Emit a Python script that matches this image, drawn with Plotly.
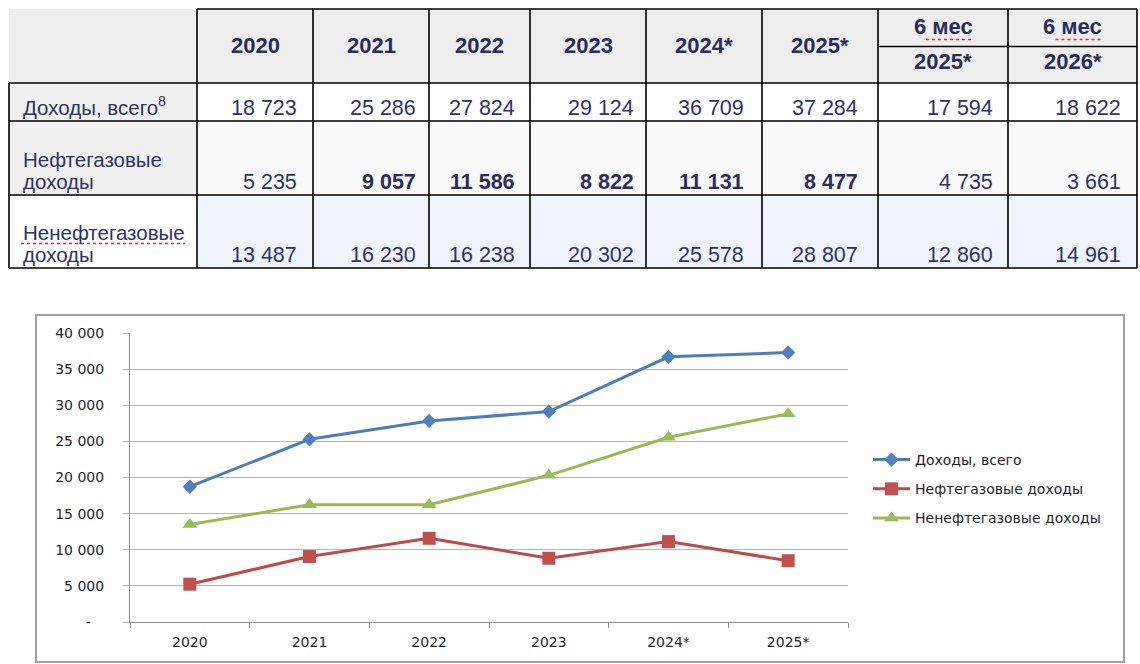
import plotly.graph_objects as go

# ---------------- data ----------------
years = ["2020", "2021", "2022", "2023", "2024*", "2025*"]
total = [18723, 25286, 27824, 29124, 36709, 37284]
oil_gas = [5235, 9057, 11586, 8822, 11131, 8477]
non_oil_gas = [13487, 16230, 16238, 20302, 25578, 28807]
series_names = ["Доходы, всего", "Нефтегазовые доходы", "Ненефтегазовые доходы"]

y_tick_values = [0, 5000, 10000, 15000, 20000, 25000, 30000, 35000, 40000]
y_tick_labels = ["-\u00a0\u00a0\u00a0", "5 000", "10 000", "15 000", "20 000",
                 "25 000", "30 000", "35 000", "40 000"]

table_col_top = ["", "", "", "", "", "", "6 мес", "6 мес"]
table_col_labels = ["2020", "2021", "2022", "2023", "2024*", "2025*", "2025*", "2026*"]
table_row_labels = [["Доходы, всего<sup>8</sup>"],
                    ["Нефтегазовые", "доходы"],
                    ["Ненефтегазовые", "доходы"]]
table_total = [18723, 25286, 27824, 29124, 36709, 37284, 17594, 18622]
table_oil_gas = [5235, 9057, 11586, 8822, 11131, 8477, 4735, 3661]
table_non_oil_gas = [13487, 16230, 16238, 20302, 25578, 28807, 12860, 14961]
table_oil_gas_bold = [False, True, True, True, True, True, False, False]

# ---------------- layout constants ----------------
W, H = 1140, 664
COL_EDGES = [9, 197, 313, 429, 530, 646, 762, 878, 1008, 1137]
ROW_EDGES = [9, 83, 121, 195, 268]
HEADER_SPLIT = 46.5
VALUE_PAD = [15, 12, 14, 11, 17, 19, 14, 15]
TABLE_H = 275
LINE_GAP = 22
TFONT = "Liberation Sans, Arial, sans-serif"
CFONT = "DejaVu Sans, sans-serif"
NAVY = "#2f3266"
NAVY_B = "#2a2c5e"

colors_line = ["#4a7ebb", "#be4b48", "#98b954"]
colors_marker = ["#4f81bd", "#c0504d", "#9bbb59"]
symbols = ["diamond", "square", "triangle-up"]
msizes = [11, 13, 13]


def fmt(v):
    return f"{v:,}".replace(",", " ")


fig = go.Figure()

# ---------------- table (cells via heatmap on its own axes) ----------------
fill_codes = [[0] * 9,
              [1] + [2] * 8,
              [1] + [3] * 8,
              [2] + [4] * 8]
fig.add_trace(go.Heatmap(
    x=COL_EDGES, y=ROW_EDGES, z=fill_codes, xaxis="x2", yaxis="y2",
    zmin=0, zmax=4, showscale=False, hoverinfo="skip",
    colorscale=[[0, "#eeeeee"], [0.25, "#f0f0f0"], [0.5, "#ffffff"],
                [0.75, "#f9f9f9"], [1, "#eef3fc"]],
))

shapes = []
blk = dict(color="#000000", width=1.6)


def hline(y, x0, x1, line=blk):
    shapes.append(dict(type="line", xref="x2", yref="y2", x0=x0, x1=x1,
                       y0=y, y1=y, line=line))


def vline(x, y0, y1, line=blk):
    shapes.append(dict(type="line", xref="x2", yref="y2", x0=x, x1=x,
                       y0=y0, y1=y1, line=line))


hline(ROW_EDGES[0], COL_EDGES[1], COL_EDGES[-1])
for y in ROW_EDGES[1:]:
    hline(y, COL_EDGES[0], COL_EDGES[-1])
hline(HEADER_SPLIT, COL_EDGES[7], COL_EDGES[-1])
vline(COL_EDGES[0], ROW_EDGES[1], ROW_EDGES[-1])
for x in COL_EDGES[1:]:
    vline(x, ROW_EDGES[0], ROW_EDGES[-1])

annotations = []


def txt(text, x, y, xanchor, size, bold=False, color=NAVY):
    annotations.append(dict(
        text=f"<b>{text}</b>" if bold else text, x=x, y=y, xref="x2", yref="y2",
        xanchor=xanchor, yanchor="bottom", showarrow=False, borderpad=0,
        font=dict(family=TFONT, size=size, color=color)))


def baseline_y(b, size):
    return b + 0.212 * size


# header
for i, lab in enumerate(table_col_labels):
    cx = (COL_EDGES[i + 1] + COL_EDGES[i + 2]) / 2
    if table_col_top[i]:
        txt(table_col_top[i], cx, baseline_y(35, 22), "center", 22, True, NAVY_B)
        txt(lab, cx, baseline_y(70.5, 22), "center", 22, True, NAVY_B)
    else:
        txt(lab, cx, baseline_y(54, 22), "center", 22, True, NAVY_B)

# rows
rows = [table_total, table_oil_gas, table_non_oil_gas]
for r, vals in enumerate(rows):
    bottom = ROW_EDGES[r + 2]
    base = bottom - 5
    lines = table_row_labels[r]
    for k, line in enumerate(lines):
        b = base - (len(lines) - 1 - k) * LINE_GAP
        txt(line, 22, baseline_y(b, 20.5), "left", 20.5)
    for i, v in enumerate(vals):
        bold = r == 1 and table_oil_gas_bold[i]
        txt(fmt(v), COL_EDGES[i + 2] - VALUE_PAD[i], baseline_y(base, 21.5),
            "right", 21.5, bold, NAVY_B if bold else NAVY)

# spell-check squiggles (decorative)
squig = dict(color="#e02b2b", width=1.6, dash="dot")
for i in (6, 7):
    cx = (COL_EDGES[i + 1] + COL_EDGES[i + 2]) / 2
    hline(39.5, cx - 17, cx + 31, squig)
hline(ROW_EDGES[3] + 48.5, 21, 185, squig)

# ---------------- chart ----------------
for name, vals, lc, mc, sym, ms in zip(series_names, [total, oil_gas, non_oil_gas],
                                       colors_line, colors_marker, symbols, msizes):
    fig.add_trace(go.Scatter(
        x=years, y=vals, name=name, mode="lines+markers", legendgroup=name,
        line=dict(color=lc, width=3),
        marker=dict(symbol=sym, size=ms, color=mc, line=dict(width=0)),
        xaxis="x", yaxis="y", hoverinfo="x+y+name"))

# chart frame
shapes.append(dict(type="rect", xref="paper", yref="paper", layer="below",
                   x0=36 / W, x1=1124 / W, y0=1 - 662 / H, y1=1 - 315 / H,
                   line=dict(color="#a3a3a3", width=2), fillcolor="rgba(0,0,0,0)"))

fig.update_layout(
    width=W, height=H, margin=dict(l=0, r=0, t=0, b=0, pad=0, autoexpand=False),
    paper_bgcolor="#ffffff", plot_bgcolor="rgba(0,0,0,0)",
    showlegend=True,
    xaxis=dict(domain=[130 / W, 848 / W], anchor="y", type="category",
               range=[-0.5, 5.5], tickson="boundaries", ticks="outside",
               ticklen=5, tickcolor="#8c8c8c", showline=True, linecolor="#8c8c8c",
               linewidth=1, showgrid=False, zeroline=False, fixedrange=True,
               automargin=False,
               tickfont=dict(family=CFONT, size=14, color="#1f1f1f"),
               ticklabelstandoff=7),
    yaxis=dict(domain=[(H - 622) / H, (H - 333) / H], anchor="x",
               range=[0, 40000], tickvals=y_tick_values, ticktext=y_tick_labels,
               ticks="outside", ticklen=6, tickcolor="#b5b5b5",
               showgrid=True, gridcolor="#b5b5b5", gridwidth=1,
               showline=True, linecolor="#8c8c8c", linewidth=1, zeroline=False,
               fixedrange=True, automargin=False,
               tickfont=dict(family=CFONT, size=14, color="#1f1f1f"),
               ticklabelstandoff=16),
    xaxis2=dict(domain=[0, 1], anchor="y2", range=[0, W], visible=False,
                fixedrange=True, automargin=False),
    yaxis2=dict(domain=[1 - TABLE_H / H, 1], anchor="x2", range=[TABLE_H, 0],
                visible=False, fixedrange=True, automargin=False),
    legend=dict(x=868 / W, y=1 - 444 / H, xanchor="left", yanchor="top",
                font=dict(family=CFONT, size=14, color="#1f1f1f"),
                bgcolor="rgba(0,0,0,0)", itemwidth=37, tracegroupgap=8,
                itemclick=False, itemdoubleclick=False),
    shapes=shapes, annotations=annotations,
)

PAGE_FIX = (
    "var s=document.createElement('style');"
    "s.textContent='html,body{margin:0!important;padding:0!important;"
    "width:1140px;height:664px;overflow:hidden!important;}"
    " #{plot_id}{position:fixed!important;left:0;top:0;}';"
    "document.head.appendChild(s);"
)

fig.write_html("out.html", config={"displayModeBar": False},
               post_script=PAGE_FIX)
